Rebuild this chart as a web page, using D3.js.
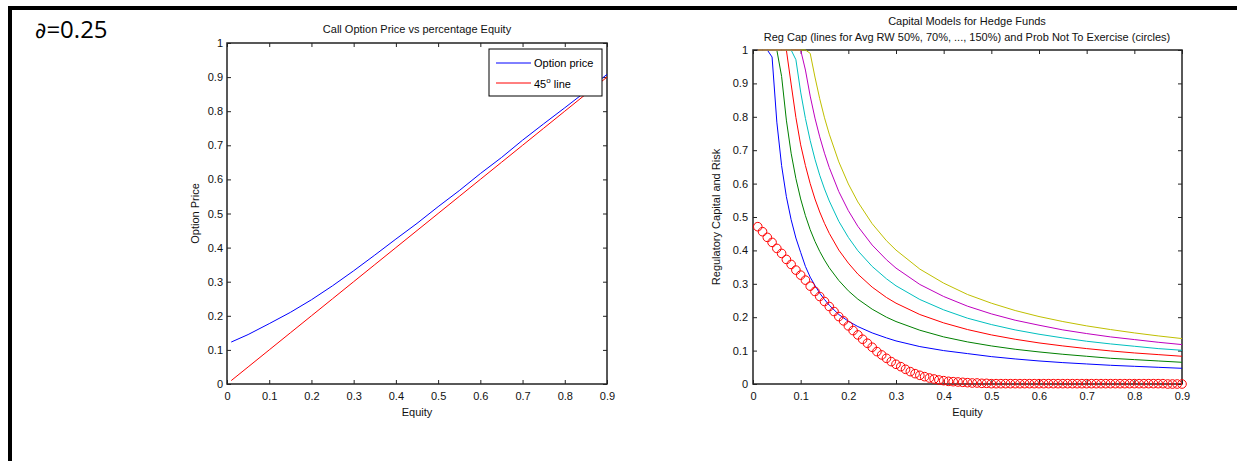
<!DOCTYPE html>
<html>
<head>
<meta charset="utf-8">
<script src="https://cdn.jsdelivr.net/npm/d3@7"></script>
<style>
  body { margin: 0; background: #fff; }
  svg text { font-family: "Liberation Sans", Arial, sans-serif; fill: #111; }
</style>
</head>
<body>
<svg id="chart" width="1237" height="461"></svg>
<script>
// ---- data ----

// left panel: call option price vs equity
const optEquity = [0.01, 0.05, 0.10, 0.15, 0.20, 0.25, 0.30, 0.35, 0.40, 0.45, 0.50, 0.55, 0.60, 0.65, 0.70, 0.75, 0.80, 0.85, 0.90];
const optionPrice = [0.123, 0.145, 0.177, 0.210, 0.247, 0.288, 0.332, 0.378, 0.425, 0.471, 0.520, 0.567, 0.617, 0.664, 0.715, 0.763, 0.810, 0.858, 0.908];
const line45 = [0.01, 0.05, 0.10, 0.15, 0.20, 0.25, 0.30, 0.35, 0.40, 0.45, 0.50, 0.55, 0.60, 0.65, 0.70, 0.75, 0.80, 0.85, 0.90];

// right panel: reg cap lines for avg RW 50%, 70%, ..., 150%
const capEquity = [0.01, 0.02, 0.03, 0.04, 0.05, 0.06, 0.07, 0.08, 0.09, 0.10, 0.11, 0.12, 0.13, 0.14, 0.15, 0.16,
                   0.18, 0.20, 0.22, 0.25, 0.28, 0.30, 0.35, 0.40, 0.45, 0.50, 0.55, 0.60, 0.65, 0.70, 0.75, 0.80, 0.85, 0.90];
const rw50  = [1, 1, 1, 0.979, 0.784, 0.654, 0.561, 0.492, 0.437, 0.394, 0.352, 0.320, 0.295, 0.272, 0.253, 0.236,
               0.208, 0.188, 0.172, 0.153, 0.138, 0.129, 0.112, 0.100, 0.091, 0.082, 0.075, 0.069, 0.064, 0.060, 0.056, 0.053, 0.050, 0.047];
const rw70  = [1, 1, 1, 1, 1, 0.921, 0.790, 0.691, 0.615, 0.554, 0.504, 0.462, 0.427, 0.397, 0.371, 0.348,
               0.310, 0.279, 0.254, 0.224, 0.200, 0.187, 0.161, 0.141, 0.126, 0.114, 0.104, 0.096, 0.089, 0.083, 0.077, 0.073, 0.069, 0.065];
const rw90  = [1, 1, 1, 1, 1, 1, 1, 0.898, 0.798, 0.716, 0.654, 0.600, 0.554, 0.515, 0.481, 0.451,
               0.401, 0.362, 0.329, 0.290, 0.259, 0.242, 0.208, 0.183, 0.163, 0.147, 0.134, 0.123, 0.114, 0.106, 0.099, 0.093, 0.088, 0.083];
const rw110 = [1, 1, 1, 1, 1, 1, 1, 1, 0.971, 0.874, 0.795, 0.729, 0.673, 0.625, 0.584, 0.548,
               0.487, 0.439, 0.399, 0.352, 0.315, 0.294, 0.253, 0.222, 0.197, 0.178, 0.162, 0.149, 0.138, 0.128, 0.120, 0.113, 0.106, 0.101];
const rw130 = [1, 1, 1, 1, 1, 1, 1, 1, 1, 1, 0.940, 0.862, 0.796, 0.740, 0.691, 0.648,
               0.576, 0.519, 0.472, 0.416, 0.372, 0.347, 0.298, 0.262, 0.233, 0.210, 0.191, 0.176, 0.162, 0.151, 0.141, 0.133, 0.125, 0.118];
const rw150 = [1, 1, 1, 1, 1, 1, 1, 1, 1, 1, 1, 0.990, 0.919, 0.854, 0.797, 0.748,
               0.665, 0.599, 0.545, 0.480, 0.429, 0.401, 0.344, 0.302, 0.268, 0.242, 0.220, 0.202, 0.187, 0.174, 0.163, 0.153, 0.144, 0.136];
const capSeries = [rw50, rw70, rw90, rw110, rw130, rw150];
const capColors = ['#0000ff', '#008000', '#ff0000', '#00bfbf', '#bf00bf', '#bfbf00'];

// probability not to exercise (circles), equity 0.01 .. 0.90
const probEquity = d3.range(1, 91).map(i => i / 100);
const probNotExercise = [0.471, 0.456, 0.439, 0.424, 0.406, 0.391, 0.373, 0.358, 0.341, 0.326,
                         0.311, 0.293, 0.277, 0.262, 0.247, 0.232, 0.217, 0.202, 0.189, 0.174,
                         0.160, 0.147, 0.134, 0.122, 0.110, 0.097, 0.087, 0.077, 0.067, 0.059,
                         0.052, 0.044, 0.037, 0.031, 0.026, 0.022, 0.018, 0.015, 0.012, 0.010,
                         0.008, 0.007, 0.006, 0.005, 0.004, 0.003, 0.003, 0.002, 0.002, 0.001,
                         0.001, 0.001, 0.001, 0.001, 0.001, 0.001, 0.001, 0.001, 0.001, 0.001,
                         0.001, 0.001, 0.001, 0.001, 0.001, 0.001, 0.001, 0.001, 0.001, 0.001,
                         0.001, 0.001, 0.001, 0.001, 0.001, 0.001, 0.001, 0.001, 0.001, 0.001,
                         0.001, 0.001, 0.001, 0.001, 0.001, 0.001, 0, 0, 0, 0];

const xTicks = [0, 0.1, 0.2, 0.3, 0.4, 0.5, 0.6, 0.7, 0.8, 0.9];
const yTicks = [0, 0.1, 0.2, 0.3, 0.4, 0.5, 0.6, 0.7, 0.8, 0.9, 1];

const svg = d3.select('#chart');
const fmt = d3.format('~g');

// outer frame (top and left edges only)
svg.append('line').attr('x1', 8).attr('x2', 1237).attr('y1', 8).attr('y2', 8)
    .attr('stroke', '#000').attr('stroke-width', 4);
svg.append('line').attr('x1', 10).attr('x2', 10).attr('y1', 6).attr('y2', 461)
    .attr('stroke', '#000').attr('stroke-width', 4);

const delta = svg.append('text')
    .attr('x', 35).attr('y', 38)
    .style('font-size', '24px')
    .style('fill', '#000');
delta.append('tspan').style('font-family', '"DejaVu Sans", sans-serif').style('font-size', '22px').text('∂');
delta.append('tspan').style('font-family', '"Open Sans", sans-serif').text('=0.25');

// draws a MATLAB style box with inward ticks on all sides
const drawAxes = (left, top, right, bottom, yLabel, yLabelX, ylPad) => {
    const x = d3.scaleLinear().domain([0, 0.9]).range([left, right]);
    const y = d3.scaleLinear().domain([0, 1]).range([bottom, top]);
    const g = svg.append('g');

    g.append('g').attr('transform', `translate(0,${bottom})`)
        .call(d3.axisBottom(x).tickValues(xTicks).tickFormat(fmt).tickSize(-4).tickSizeOuter(0).tickPadding(8));
    g.append('g').attr('transform', `translate(0,${top})`)
        .call(d3.axisTop(x).tickValues(xTicks).tickFormat('').tickSize(-4).tickSizeOuter(0));
    g.append('g').attr('transform', `translate(${left},0)`)
        .call(d3.axisLeft(y).tickValues(yTicks).tickFormat(fmt).tickSize(-4).tickSizeOuter(0).tickPadding(ylPad));
    g.append('g').attr('transform', `translate(${right},0)`)
        .call(d3.axisRight(y).tickValues(yTicks).tickFormat('').tickSize(-4).tickSizeOuter(0));

    g.selectAll('.domain').remove();
    g.selectAll('.tick line').attr('stroke', '#222');
    g.selectAll('.tick text').style('font-size', '11px').style('fill', '#111')
        .style('font-family', '"Liberation Sans", Arial, sans-serif');

    g.append('rect')
        .attr('x', left).attr('y', top)
        .attr('width', right - left).attr('height', bottom - top)
        .attr('fill', 'none').attr('stroke', '#222').attr('stroke-width', 1.5);

    svg.append('text')
        .attr('x', (left + right) / 2).attr('y', 416)
        .attr('text-anchor', 'middle').style('font-size', '11px')
        .text('Equity');

    svg.append('text')
        .attr('transform', `translate(${yLabelX},${(top + bottom) / 2}) rotate(-90)`)
        .attr('text-anchor', 'middle').style('font-size', '11px')
        .text(yLabel);

    return { x, y };
};

// ---- left panel ----
const L = drawAxes(227, 43, 607, 384, 'Option Price', 199, 4);

svg.append('text')
    .attr('x', 417).attr('y', 33)
    .attr('text-anchor', 'middle').style('font-size', '11px')
    .text('Call Option Price vs percentage Equity');

const lineL = d3.line().x(d => L.x(d[0])).y(d => L.y(d[1]));
svg.append('path')
    .datum(optEquity.map((e, i) => [e, optionPrice[i]]))
    .attr('d', lineL).attr('fill', 'none').attr('stroke', '#0000ff').attr('stroke-width', 1);
svg.append('path')
    .datum(optEquity.map((e, i) => [e, line45[i]]))
    .attr('d', lineL).attr('fill', 'none').attr('stroke', '#ff0000').attr('stroke-width', 1);

// legend
const legend = svg.append('g');
legend.append('rect')
    .attr('x', 489).attr('y', 49).attr('width', 113).attr('height', 47)
    .attr('fill', '#fff').attr('stroke', '#000').attr('stroke-width', 1);
[['#0000ff', 63], ['#ff0000', 83]].forEach(([c, ly]) => {
    legend.append('line').attr('x1', 496).attr('x2', 531).attr('y1', ly).attr('y2', ly)
        .attr('stroke', c).attr('stroke-width', 1);
});
legend.append('text').attr('x', 534).attr('y', 67).style('font-size', '11px').style('fill', '#000')
    .text('Option price');
const t45 = legend.append('text').attr('x', 534).attr('y', 88).style('font-size', '11px').style('fill', '#000');
t45.append('tspan').text('45');
t45.append('tspan').attr('dy', -5).style('font-size', '8px').text('o');
t45.append('tspan').attr('dy', 5).text(' line');

// ---- right panel ----
const R = drawAxes(753, 50, 1182, 384, 'Regulatory Capital and Risk', 720, 5);

svg.append('text')
    .attr('x', 967).attr('y', 25)
    .attr('text-anchor', 'middle').style('font-size', '11px')
    .text('Capital Models for Hedge Funds');
svg.append('text')
    .attr('x', 967).attr('y', 41)
    .attr('text-anchor', 'middle').style('font-size', '11px')
    .text('Reg Cap (lines for Avg RW 50%, 70%, ..., 150%) and Prob Not To Exercise (circles)');

const lineR = d3.line().x(d => R.x(d[0])).y(d => R.y(d[1]));
capSeries.forEach((s, k) => {
    svg.append('path')
        .datum(capEquity.map((e, i) => [e, s[i]]))
        .attr('d', lineR).attr('fill', 'none')
        .attr('stroke', capColors[k]).attr('stroke-width', 1);
});

svg.append('g').selectAll('circle')
    .data(probEquity.map((e, i) => [e, probNotExercise[i]]))
    .enter().append('circle')
    .attr('cx', d => R.x(d[0]))
    .attr('cy', d => R.y(d[1]))
    .attr('r', 4.3)
    .attr('fill', 'none')
    .attr('stroke', '#ff0000')
    .attr('stroke-width', 1);
</script>
</body>
</html>
